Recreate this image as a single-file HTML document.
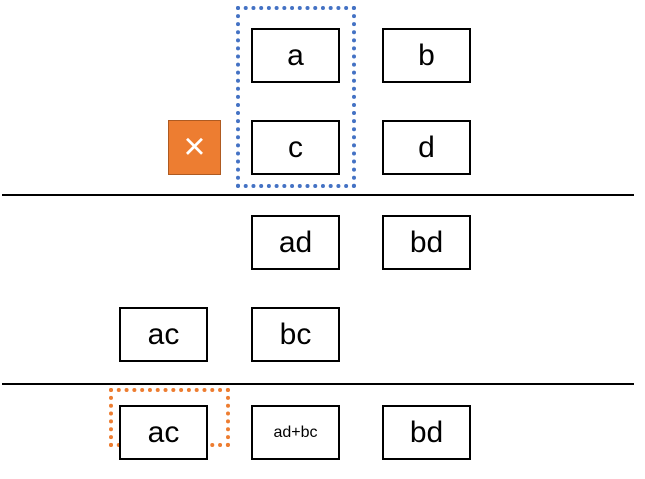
<!DOCTYPE html>
<html><head><meta charset="utf-8"><style>
html,body{margin:0;padding:0;background:#fff;}
#c{position:relative;width:645px;height:479px;overflow:hidden;font-family:"Liberation Sans","Noto Sans CJK JP",sans-serif;}
.b{position:absolute;box-sizing:border-box;width:89px;height:55px;border:2px solid #000;display:flex;align-items:center;justify-content:center;font-size:30px;color:#000;background:#fff;}
.ln{position:absolute;left:2px;width:632px;height:2px;background:#000;}
.dot{position:absolute;box-sizing:border-box;border-style:dotted;border-width:4px;}
</style></head><body>
<div id="c">
<div class="dot" style="left:236px;top:6px;width:120px;height:182px;border-color:#4472c4;"></div>
<div class="dot" style="left:109px;top:388px;width:121px;height:59px;border-color:#ed7d31;"></div>
<div class="b" style="left:251px;top:28px;">a</div>
<div class="b" style="left:382px;top:28px;">b</div>
<div class="b" style="left:168px;top:120px;width:53px;background:#ed7d31;border:1px solid #ae5a21;color:#fff;font-size:38px;font-weight:300;">×</div>
<div class="b" style="left:251px;top:120px;">c</div>
<div class="b" style="left:382px;top:120px;">d</div>
<div class="ln" style="top:194px;"></div>
<div class="b" style="left:251px;top:215px;">ad</div>
<div class="b" style="left:382px;top:215px;">bd</div>
<div class="b" style="left:119px;top:307px;">ac</div>
<div class="b" style="left:251px;top:307px;">bc</div>
<div class="ln" style="top:383px;"></div>
<div class="b" style="left:119px;top:405px;">ac</div>
<div class="b" style="left:251px;top:405px;font-size:16px;">ad+bc</div>
<div class="b" style="left:382px;top:405px;">bd</div>
</div>
</body></html>
